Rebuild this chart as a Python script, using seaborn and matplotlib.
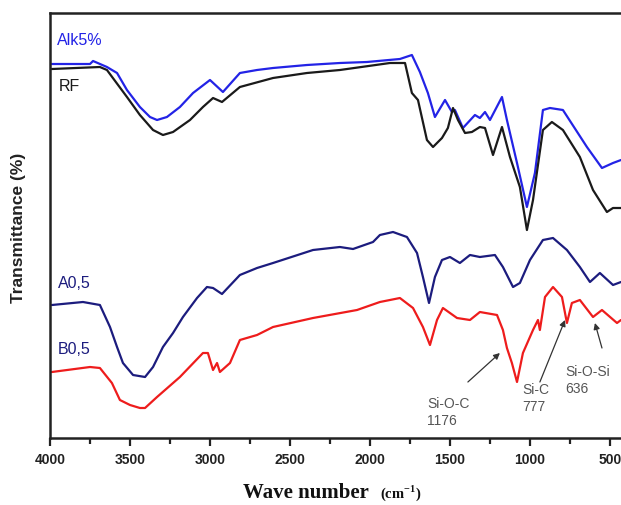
import numpy as np
import pandas as pd
import seaborn as sns
import matplotlib
matplotlib.use("Agg")
import matplotlib.pyplot as plt
from matplotlib.ticker import MultipleLocator

# ---- data (wavenumber cm-1, transmittance in arbitrary offset units) ----
alk_wn = [3988, 3750, 3731, 3644, 3581, 3519, 3438, 3375, 3331, 3269, 3188, 3106, 3000, 2919,
          2813, 2706, 2606, 2394, 2188, 2019, 1813,
          1738, 1688, 1638, 1594, 1531, 1488, 1469, 1419, 1344, 1313, 1281, 1250, 1175, 1144,
          1081, 1019, 969, 919, 875, 794, 644, 550, 481, 431]
alk_t = [374, 374, 377, 371, 365, 348, 331, 321, 318, 321, 331, 345, 358, 346,
         365, 368, 370, 373, 375, 376, 379,
         383, 366, 345, 321, 338, 326, 328, 310, 323, 320, 326, 318, 341, 318,
         275, 231, 265, 328, 330, 328, 291, 270, 275, 278]

rf_wn = [3988, 3688, 3644, 3519, 3438, 3356, 3294, 3231, 3125, 3044, 2981, 2925, 2813, 2606,
         2394, 2188, 1875, 1781, 1738,
         1700, 1644, 1606, 1550, 1513, 1481, 1450, 1406, 1363, 1313, 1281, 1231, 1175, 1125,
         1063, 1019, 981, 919, 863, 794, 688, 606, 519, 481, 431]
rf_t = [369, 371, 368, 341, 323, 308, 303, 306, 318, 331, 340, 336, 351, 360,
        365, 368, 375, 375, 345,
        338, 298, 291, 300, 310, 330, 318, 305, 306, 311, 310, 283, 311, 281,
        251, 208, 238, 308, 316, 308, 281, 248, 226, 230, 230]

a05_wn = [3988, 3794, 3688, 3625, 3581, 3544, 3481, 3406, 3356, 3294, 3231, 3169, 3081, 3019,
          2981, 2925, 2813, 2706, 2606,
          2356, 2188, 2106, 1981, 1938, 1856, 1769, 1706, 1669, 1631, 1594, 1550, 1500, 1438,
          1375, 1313, 1219, 1169, 1106, 1063, 1000, 919, 856, 769, 688, 625, 563, 481, 431]
a05_t = [133, 136, 133, 111, 91, 75, 63, 61, 71, 91, 105, 121, 140, 151,
         150, 144, 163, 170, 175,
         188, 191, 189, 196, 203, 206, 201, 185, 161, 135, 161, 178, 181, 175,
         183, 181, 183, 171, 151, 155, 178, 198, 200, 188, 171, 156, 165, 153, 156]

b05_wn = [3988, 3750, 3688, 3613, 3563, 3500, 3438, 3406, 3331, 3188, 3044, 3013, 2981, 2956,
          2938, 2875, 2813, 2706, 2606, 2356, 2081, 1938, 1875, 1813, 1731, 1669, 1625, 1581,
          1544, 1456, 1375, 1313, 1206, 1169, 1144, 1113, 1081, 1044, 981, 950, 938, 906, 856,
          800, 769, 738, 688, 606, 550, 456, 431]
b05_t = [66, 71, 70, 55, 38, 33, 30, 30, 41, 61, 85, 85, 68, 75,
         66, 75, 98, 103, 111, 120, 128, 136, 138, 140, 130, 111, 93, 118,
         130, 120, 118, 126, 123, 108, 90, 75, 56, 85, 108, 118, 108, 141, 151,
         141, 115, 135, 138, 121, 128, 115, 118]

series_names = ["Alk5%", "RF", "A0,5", "B0,5"]
series_colors = ["#2323e6", "#1a1a1a", "#1c1c7e", "#ee1c1c"]
x_ticks = [4000, 3500, 3000, 2500, 2000, 1500, 1000, 500]

annotations = [("Si-O-C\n1176", 1644, 41, 1388, 56, 1188, 85),
               ("Si-C\n777", 1050, 55, 938, 56, 781, 118),
               ("Si-O-Si\n636", 781, 73, 550, 90, 594, 115)]

# ---- figure ----
sns.set_style("white")
plt.rcParams['font.family'] = ['Liberation Sans', 'DejaVu Sans']

fig = plt.figure(figsize=(6.21, 5.05), dpi=100)
W, H = 621, 505
ax = fig.add_axes([50 / W, (H - 438) / H, 571 / W, 425 / H])

data = [(alk_wn, alk_t), (rf_wn, rf_t), (a05_wn, a05_t), (b05_wn, b05_t)]
for (wn, t), name, c in zip(data, series_names, series_colors):
    df = pd.DataFrame({"wn": wn, "t": t})
    sns.lineplot(data=df, x="wn", y="t", ax=ax, color=c, lw=1.6, sort=False,
                 estimator=None, legend=False)

ax.set_xlim(4000, 431)
ax.set_ylim(0, 425)
ax.set_yticks([])
ax.set_xticks(x_ticks)
ax.set_xticklabels([str(v) for v in x_ticks], fontsize=10, fontweight='bold', color='#222')
ax.xaxis.set_minor_locator(MultipleLocator(250))
ax.tick_params(axis='x', which='major', direction='out', length=6, width=1.6, color='#222',
               bottom=True, pad=5)
ax.tick_params(axis='x', which='minor', direction='out', length=4, width=1.6, color='#222',
               bottom=True)
for s in ['left', 'bottom', 'top']:
    ax.spines[s].set_linewidth(1.8)
    ax.spines[s].set_color('#222')
ax.spines['right'].set_visible(False)
ax.set_xlabel("")
ax.set_ylabel("")

# series labels
label_pos = [(3956, 398, "#2323e6"), (3944, 352, "#1a1a1a"), (3950, 154, "#1c1c7e"), (3950, 88, "#1c1c7e")]
for name, (x, y, c) in zip(series_names, label_pos):
    ax.text(x, y, name, color=c, fontsize=11.5, ha='left', va='center')

# annotations
for txt, tx, ty, ax0, ay0, ax1, ay1 in annotations:
    ax.text(tx, ty, txt, color='#555', fontsize=10, ha='left', va='top', linespacing=1.25)
    ax.annotate("", xy=(ax1, ay1), xytext=(ax0, ay0),
                arrowprops=dict(arrowstyle='-|>', color='#333', lw=0.9,
                                mutation_scale=9, shrinkA=0, shrinkB=0))

# axis labels
fig.text(19 / W, 1 - 228 / H, "Transmittance (%)", rotation=90, fontsize=12.5,
         fontweight='bold', ha='center', va='center', color='#222')
fig.text(243 / W, 1 - 498 / H, "Wave number", family=['Liberation Serif', 'DejaVu Serif'],
         fontsize=15, fontweight='bold', ha='left', va='baseline', color='#111')
fig.text(380 / W, 1 - 498 / H, r"(cm$^{\mathregular{-1}}$)", family=['Liberation Serif', 'DejaVu Serif'],
         fontsize=10.5, fontweight='bold', ha='left', va='baseline', color='#111')

fig.savefig("out.png", dpi=100)
